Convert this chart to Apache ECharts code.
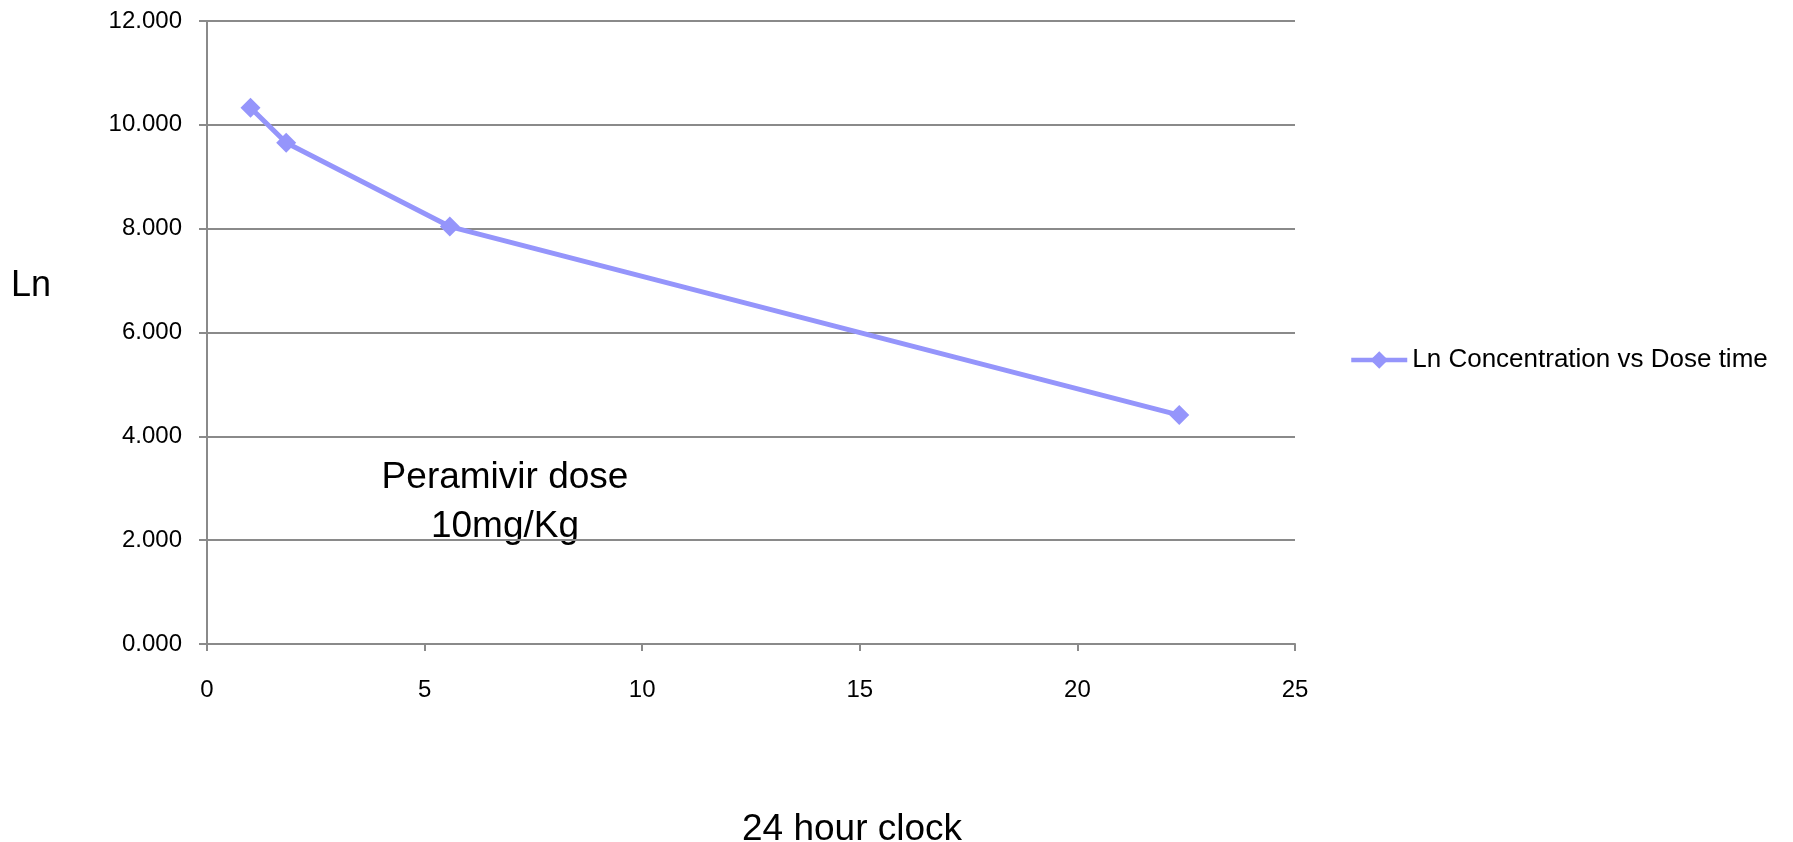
<!DOCTYPE html>
<html>
<head>
<meta charset="utf-8">
<title>Ln Concentration vs Dose time</title>
<script src="https://cdn.jsdelivr.net/npm/echarts@6/dist/echarts.min.js"></script>
<style>
  html, body { margin: 0; padding: 0; background: #fff; }
  #chart { width: 1793px; height: 842px; }
</style>
</head>
<body>
<div id="chart"></div>
<script>
// hours on the 24 hour clock, and Ln of the concentration
var doseTimes = [1.0, 1.82, 5.58, 22.34]
var lnValues = [10.33, 9.655, 8.04, 4.41]
var seriesName = 'Ln Concentration vs Dose time'

var chart = echarts.init(document.getElementById('chart'))
var font = "'Liberation Sans', Arial, sans-serif"
var axisGrey = '#8a8a8a'
var lineBlue = '#9595fb'

chart.setOption({
  animation: false,
  textStyle: { fontFamily: font },
  grid: { left: 207, right: 498, top: 21, bottom: 198, containLabel: false },
  legend: {
    left: 1344,
    top: 342,
    itemWidth: 56,
    itemHeight: 22,
    lineStyle: { width: 4.5 },
    textStyle: { fontSize: 26, color: '#000', fontFamily: font },
    data: [seriesName]
  },
  xAxis: {
    type: 'value',
    min: 0,
    max: 25,
    interval: 5,
    axisLine: { lineStyle: { color: axisGrey, width: 2 } },
    axisTick: { show: true, length: 7, lineStyle: { color: axisGrey, width: 2 } },
    axisLabel: { fontSize: 24, color: '#000', margin: 34, fontFamily: font },
    splitLine: { show: false }
  },
  yAxis: {
    type: 'value',
    min: 0,
    max: 12,
    interval: 2,
    axisLine: { show: true, lineStyle: { color: axisGrey, width: 2 } },
    axisTick: { show: true, length: 8, lineStyle: { color: axisGrey, width: 2 } },
    axisLabel: {
      fontSize: 24,
      color: '#000',
      margin: 25,
      fontFamily: font,
      formatter: function (v) { return v.toFixed(3) }
    },
    splitLine: { show: true, lineStyle: { color: axisGrey, width: 2 } }
  },
  graphic: [
    {
      type: 'text',
      left: 11,
      top: 268,
      style: { text: 'Ln', fill: '#000', font: '36px ' + font }
    },
    {
      type: 'text',
      x: 505,
      y: 502,
      style: {
        text: 'Peramivir dose\n10mg/Kg',
        font: '37px ' + font,
        fill: '#000',
        align: 'center',
        verticalAlign: 'middle',
        lineHeight: 49
      }
    },
    {
      type: 'text',
      x: 852,
      y: 830,
      style: {
        text: '24 hour clock',
        font: '37px ' + font,
        fill: '#000',
        align: 'center',
        verticalAlign: 'middle'
      }
    }
  ],
  series: [
    {
      name: seriesName,
      type: 'line',
      data: doseTimes.map(function (t, i) { return [t, lnValues[i]] }),
      symbol: 'diamond',
      symbolSize: 20,
      itemStyle: { color: lineBlue },
      lineStyle: { color: lineBlue, width: 5 }
    }
  ]
})
</script>
</body>
</html>
